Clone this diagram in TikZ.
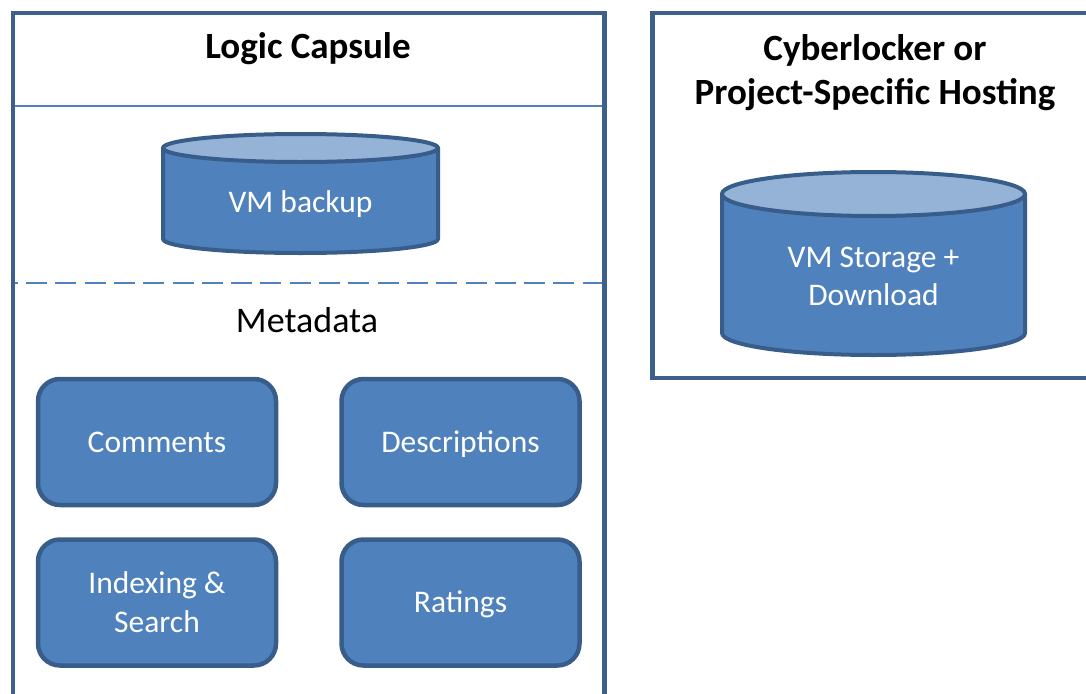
\documentclass[tikz,border=0pt]{standalone}
\usepackage{fontspec}
\setmainfont{Carlito}
\definecolor{fillblue}{HTML}{4F81BD}
\definecolor{edgeblue}{HTML}{385D8A}
\definecolor{topblue}{HTML}{95B3D7}
\definecolor{framecol}{HTML}{3C5F8E}
\begin{document}
\begin{tikzpicture}[x=1pt,y=-1pt,
  frame/.style={draw=framecol,line width=4.5pt,line join=miter},
  divider/.style={draw=fillblue,line width=2.5pt},
  cylbody/.style={fill=fillblue,draw=edgeblue,line width=4pt,line join=round},
  cyltop/.style={fill=topblue,draw=edgeblue,line width=4pt},
  titletext/.style={font=\fontsize{37}{45}\selectfont\bfseries,inner sep=0pt,anchor=base},
  plaintext/.style={font=\fontsize{36}{44}\selectfont,align=center,inner sep=0pt,anchor=base},
  celltext/.style={font=\fontsize{31.5}{39}\selectfont,text=white,inner sep=0pt,anchor=base},
  metabox/.style={rectangle,rounded corners=22pt,fill=fillblue,draw=edgeblue,line width=4.5pt,
    minimum width=238pt,minimum height=126pt,font=\fontsize{31.5}{39}\selectfont,text=white,align=center},
  oneline/.style={text height=20.3pt,text depth=0pt}]
\useasboundingbox (0,0) rectangle (1086,693);
\clip (0,0) rectangle (1086,693);
% left container
\draw[frame] (13,720) -- (13,13) -- (604.5,13) -- (604.5,720);
\coordinate (divL) at (15,106);
\coordinate (divR) at (602,106);
\draw[divider] (divL) -- (divR);
\coordinate (dashL) at (15,283);
\coordinate (dashR) at (602,283);
\draw[divider,dash pattern=on 21pt off 8.3pt,dash phase=18.3pt] (dashL) -- (dashR);
\node[titletext] (logic) at (308,58.5) {Logic Capsule};
% VM backup cylinder
\draw[cylbody] (163,148) -- (163,239) arc[start angle=180,end angle=0,x radius=137.5,y radius=14] -- (438,148) -- cycle;
\draw[cyltop] (300.5,148) ellipse[x radius=137.5,y radius=14];
\node[celltext] (backup) at (300.5,212.5) {VM backup};
\node[plaintext] (meta) at (307,332) {Metadata};
% metadata boxes
\node[metabox,oneline] (comments) at (157,442) {Comments};
\node[metabox,oneline] (descr) at (460.5,442) {Descriptions};
\node[metabox] (index) at (157,602.5) {Indexing \&\\Search};
\node[metabox,oneline] (ratings) at (460.5,602.5) {Ratings};
% right container
\draw[frame] (1120,13) -- (652.5,13) -- (652.5,378) -- (1120,378);
\node[titletext] (cyber1) at (875,60) {Cyberlocker or};
\node[titletext] (cyber2) at (875,104) {Project-Specific Hosting};
\draw[cylbody] (722,194) -- (722,333) arc[start angle=180,end angle=0,x radius=151.5,y radius=22] -- (1025,194) -- cycle;
\draw[cyltop] (873.5,194) ellipse[x radius=151.5,y radius=22];
\node[celltext] (storage1) at (873.5,267) {VM Storage +};
\node[celltext] (storage2) at (873.5,305.5) {Download};
\end{tikzpicture}
\end{document}
